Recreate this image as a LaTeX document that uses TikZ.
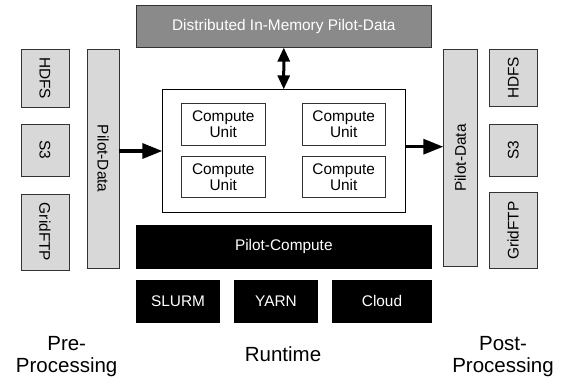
\documentclass[tikz,border=0pt]{standalone}
\usepackage{fontspec}
\setmainfont{Liberation Sans}
\usetikzlibrary{arrows.meta}
\definecolor{lgray}{HTML}{D8D8D8}
\definecolor{mgray}{HTML}{8A8A8A}
\definecolor{edge}{HTML}{333333}
\begin{document}
\begin{tikzpicture}[x=1pt,y=-1pt,
  every node/.style={inner sep=0pt,outer sep=0pt},
  boxtxt/.style={font=\fontsize{15.4}{16}\selectfont},
  lbox/.style={boxtxt,draw=edge,line width=0.9pt,fill=lgray},
  bbox/.style={boxtxt,fill=black,text=white},
  wbox/.style={boxtxt,draw=edge,line width=0.9pt,fill=white,align=center},
  lbl/.style={font=\fontsize{20.5}{22}\selectfont,align=center},
  arr/.style={line width=3.2pt,-{Triangle[length=20pt,width=15pt]}},
  darr/.style={line width=3pt,{Triangle[length=14pt,width=12pt]}-{Triangle[length=14pt,width=12pt]}}
]
\useasboundingbox (0,0) rectangle (561,385);
% left side
\node[lbox,rotate=-90,minimum width=58pt,minimum height=48pt] (hdfsL) at (45,78) {HDFS};
\node[lbox,rotate=-90,minimum width=52pt,minimum height=48pt] (s3L) at (45,150) {S3};
\node[lbox,rotate=-90,minimum width=76pt,minimum height=48pt] (gridL) at (45,232) {GridFTP};
\node[lbox,rotate=-90,minimum width=219.3pt,minimum height=32.3pt] (pdL) at (103.2,158.7) {Pilot-Data};
% right side
\node[lbox,rotate=90,minimum width=217.4pt,minimum height=34pt] (pdR) at (460.3,158) {Pilot-Data};
\node[lbox,rotate=90,minimum width=56.7pt,minimum height=48.3pt] (hdfsR) at (513.2,77.7) {HDFS};
\node[lbox,rotate=90,minimum width=51.7pt,minimum height=48.3pt] (s3R) at (513.2,150.2) {S3};
\node[lbox,rotate=90,minimum width=75.6pt,minimum height=48.3pt] (gridR) at (513.2,230.5) {GridFTP};
% top
\node[boxtxt,draw=edge,line width=0.9pt,fill=mgray,text=white,minimum width=295.7pt,minimum height=41.7pt] (dist) at (283.8,26.8) {Distributed In-Memory Pilot-Data};
% runtime container
\node[draw=black,line width=0.9pt,fill=white,minimum width=242.7pt,minimum height=123.4pt] (inner) at (283.7,151) {};
\node[wbox,minimum width=83.3pt,minimum height=41.7pt] (cu1) at (223.3,124.2) {Compute\\Unit};
\node[wbox,minimum width=83.3pt,minimum height=41.7pt] (cu2) at (343.7,124.2) {Compute\\Unit};
\node[wbox,minimum width=83.3pt,minimum height=40.6pt] (cu3) at (223.3,177) {Compute\\Unit};
\node[wbox,minimum width=83.3pt,minimum height=40.6pt] (cu4) at (343.7,177) {Compute\\Unit};
% pilot-compute and backends
\node[bbox,minimum width=295.7pt,minimum height=44pt] (pc) at (283.8,247) {Pilot-Compute};
\node[bbox,minimum width=84pt,minimum height=42.7pt] (slurm) at (178,301.3) {SLURM};
\node[bbox,minimum width=83.4pt,minimum height=42.7pt] (yarn) at (276,301.3) {YARN};
\node[bbox,minimum width=100.6pt,minimum height=42.7pt] (cloud) at (382,301.3) {Cloud};
% labels
\node[lbl] (pre) at (66.7,357) {Pre-\\Processing};
\node[lbl,anchor=base] (rt) at (283,361.7) {Runtime};
\node[lbl] (post) at (503,357) {Post-\\Processing};
% arrows
\draw[arr] (pdL.north |- inner.west) -- (inner.west);
\draw[arr] ([yshift=4.3pt]inner.east) -- ([yshift=4.3pt]inner.east -| pdR.north);
\draw[darr] (dist.south) -- (inner.north);
\end{tikzpicture}
\end{document}
